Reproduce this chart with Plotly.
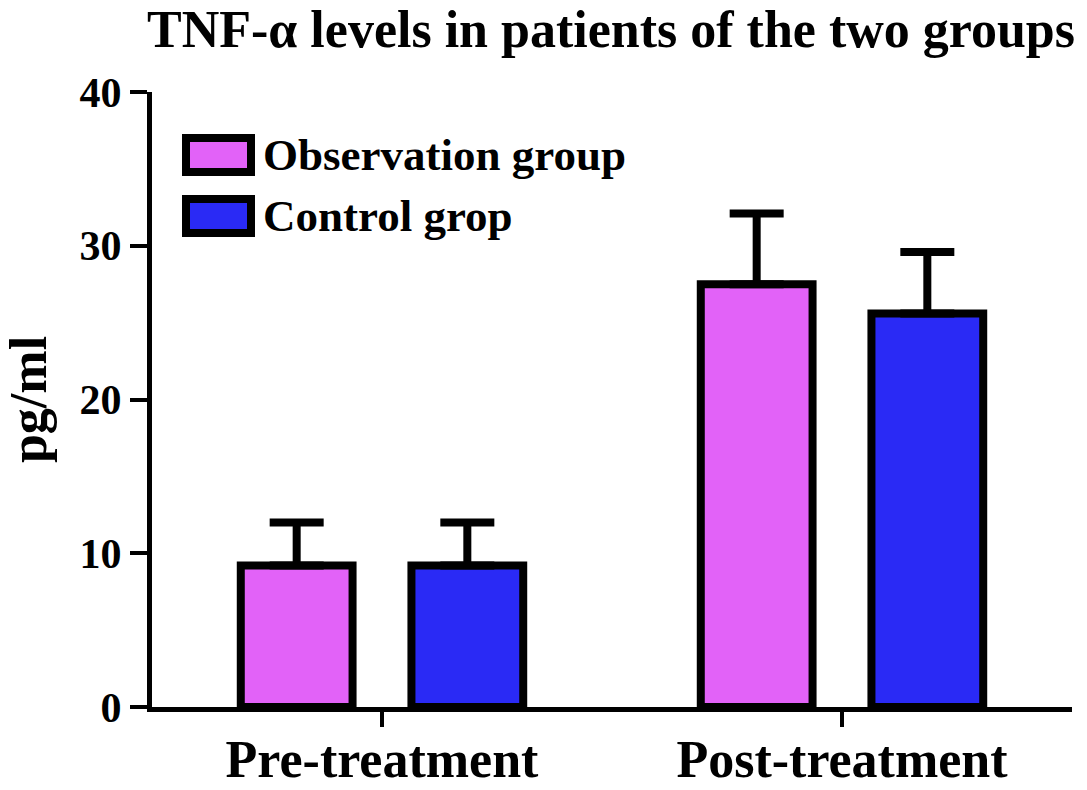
import plotly.graph_objects as go

categories = ["Pre-treatment", "Post-treatment"]
series_names = ["Observation group", "Control grop"]
obs_values = [9.2, 27.5]
obs_errors = [2.8, 4.6]
ctrl_values = [9.2, 25.6]
ctrl_errors = [2.8, 4.0]
y_ticks = [0, 10, 20, 30, 40]

colors = ["#E262F8", "#2A2AF5"]
FONT = "Liberation Serif"

W, H = 1087, 790
L, R, T, B = 152, 15, 92, 83
pw, ph = W - L - R, H - T - B

def px_x(p):
    return (p - L) / pw

def px_y(p):
    return (H - B - p) / ph

fig = go.Figure()
for name, vals, errs, col in [
    (series_names[0], obs_values, obs_errors, colors[0]),
    (series_names[1], ctrl_values, ctrl_errors, colors[1]),
]:
    fig.add_trace(go.Bar(
        x=categories, y=vals, name=name,
        marker=dict(color=col, line=dict(color="black", width=8)),
        error_y=dict(type="data", array=errs, arrayminus=[0] * len(errs),
                     symmetric=False, color="black", thickness=8, width=27),
        showlegend=False,
    ))

# manual legend (large swatches like the reference)
legend_rows = [155, 216]
for i, (name, col) in enumerate(zip(series_names, colors)):
    cy = legend_rows[i]
    fig.add_shape(type="rect", xref="paper", yref="paper",
                  x0=px_x(186), x1=px_x(251), y0=px_y(cy - 17), y1=px_y(cy + 17),
                  fillcolor=col, line=dict(color="black", width=8))
    fig.add_annotation(xref="paper", yref="paper", x=px_x(262), y=px_y(cy),
                       xanchor="left", yanchor="middle", text="<b>%s</b>" % name,
                       showarrow=False, borderpad=0,
                       font=dict(family=FONT, size=45, color="black"))

fig.update_layout(
    width=W, height=H,
    margin=dict(l=L, r=R, t=T, b=B, autoexpand=False),
    paper_bgcolor="white", plot_bgcolor="white",
    barmode="group", bargap=0.258, bargroupgap=0.345,
    title=dict(text="<b>TNF-α levels in patients of the two groups</b>",
               x=611 / W, xanchor="center",
               y=1 - 29 / H, yanchor="middle",
               font=dict(family=FONT, size=52, color="black")),
    font=dict(family=FONT, color="black"),
)
fig.update_xaxes(
    range=[-0.5, 1.5], showline=True, linecolor="black", linewidth=5,
    ticks="outside", ticklen=15, tickwidth=4, tickcolor="black",
    tickfont=dict(family=FONT, size=52, color="black"),
    tickvals=categories, ticktext=["<b>%s</b>" % c for c in categories],
    ticklabelstandoff=-12,
    showgrid=False, zeroline=False, automargin=False,
)
fig.update_yaxes(
    range=[0, 40], tickvals=y_ticks, ticktext=["<b>%d</b>" % v for v in y_ticks],
    showline=True, linecolor="black", linewidth=5,
    ticks="outside", ticklen=17, tickwidth=4, tickcolor="black",
    tickfont=dict(family=FONT, size=42, color="black"),
    title=dict(text="<b>pg/ml</b>", font=dict(family=FONT, size=52, color="black"),
               standoff=18),
    showgrid=False, zeroline=False, automargin=False,
)

fig.write_html("out.html", config={"displayModeBar": False},
               post_script="document.body.style.margin='0';document.body.style.overflow='hidden';")
